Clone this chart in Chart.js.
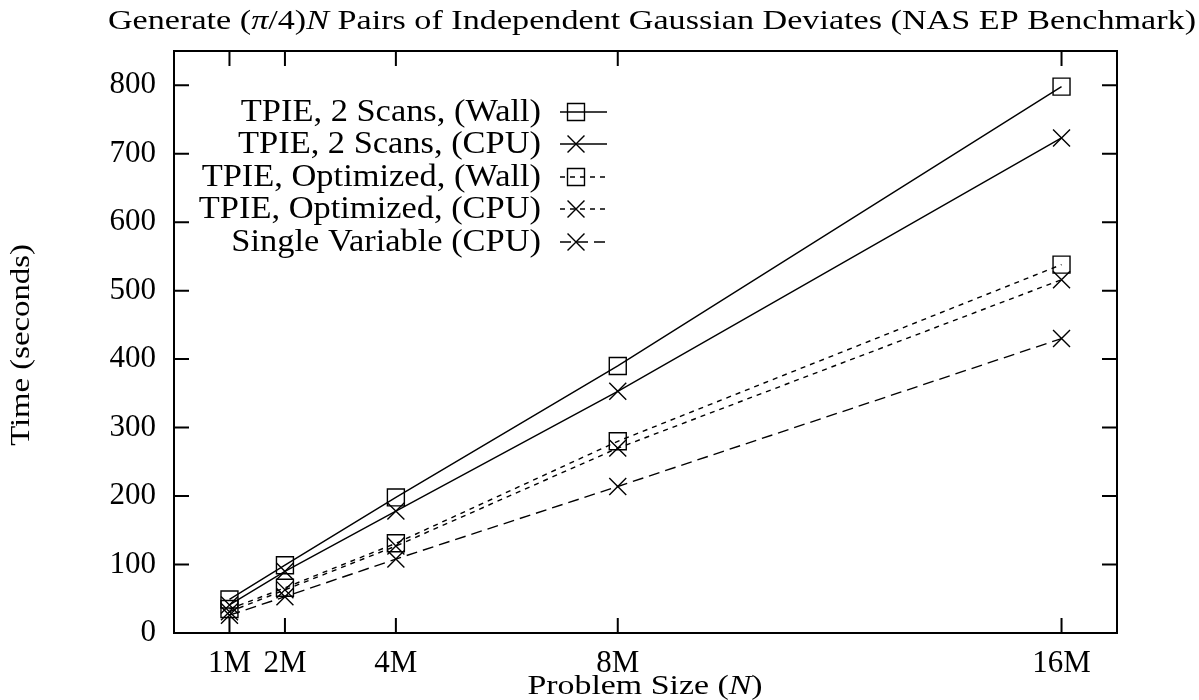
<!DOCTYPE html>
<html>
<head>
<meta charset="utf-8">
<script src="https://cdn.jsdelivr.net/npm/chart.js@4.4.0/dist/chart.umd.min.js"></script>
<style>
  html, body { margin: 0; padding: 0; background: #fff; }
  #wrap { width: 1199px; height: 700px; position: relative; }
</style>
</head>
<body>
<div id="wrap"><canvas id="epChart"></canvas></div>
<script>
// Problem sizes in millions
const sizes = [1, 2, 4, 8, 16];
const xTickLabels = ["1M", "2M", "4M", "8M", "16M"];
const yTicks = [0, 100, 200, 300, 400, 500, 600, 700, 800];

const scans2Wall = [49, 99, 198, 390, 798];
const scans2Cpu = [41, 90, 178, 353, 723];
const optWall = [35, 66, 131, 280, 538];
const optCpu = [31, 63, 127, 270, 516];
const singleCpu = [26, 53, 108, 214, 430];

const seriesLabels = [
    "TPIE, 2 Scans, (Wall)",
    "TPIE, 2 Scans, (CPU)",
    "TPIE, Optimized, (Wall)",
    "TPIE, Optimized, (CPU)",
    "Single Variable (CPU)"
];

const FONT = "'Liberation Serif', 'DejaVu Serif', serif";

function toPoints(values) {
    return sizes.map((s, i) => ({ x: s, y: values[i] }));
}

function makeSet(label, values, pointStyle, dash) {
    return {
        label: label,
        data: toPoints(values),
        borderColor: "#000",
        borderWidth: 1.4,
        borderDash: dash,
        pointStyle: pointStyle,
        pointRadius: 12,
        pointBorderWidth: 1.4,
        pointBorderColor: "#000",
        pointBackgroundColor: "rgba(0,0,0,0)",
        fill: false,
        tension: 0
    };
}

const datasets = [
    makeSet(seriesLabels[0], scans2Wall, "rect", []),
    makeSet(seriesLabels[1], scans2Cpu, "crossRot", []),
    makeSet(seriesLabels[2], optWall, "rect", [5, 5]),
    makeSet(seriesLabels[3], optCpu, "crossRot", [5, 5]),
    makeSet(seriesLabels[4], singleCpu, "crossRot", [11, 6])
];

// draw text pieces (some italic) stretched horizontally by sx
// align: "center" puts the middle at x, "right" puts the end at x
function drawRich(ctx, pieces, x, cy, size, sx, align) {
    let total = 0;
    pieces.forEach(p => {
        ctx.font = (p.it ? "italic " : "") + size + "px " + FONT;
        p.w = ctx.measureText(p.t).width;
        total += p.w;
    });
    ctx.save();
    ctx.translate(x, cy);
    ctx.scale(sx, 1);
    let px = align === "right" ? -total : -total / 2;
    ctx.textAlign = "left";
    ctx.textBaseline = "middle";
    pieces.forEach(p => {
        ctx.font = (p.it ? "italic " : "") + size + "px " + FONT;
        ctx.fillText(p.t, px, 0);
        px += p.w;
    });
    ctx.restore();
}

function drawMarker(ctx, style, x, y, r) {
    ctx.beginPath();
    if (style === "rect") {
        const s = Math.SQRT1_2 * r;
        ctx.rect(x - s, y - s, 2 * s, 2 * s);
    } else {
        const d = Math.SQRT1_2 * r;
        ctx.moveTo(x - d, y - d); ctx.lineTo(x + d, y + d);
        ctx.moveTo(x - d, y + d); ctx.lineTo(x + d, y - d);
    }
    ctx.stroke();
}

const framePlugin = {
    id: "frame",
    beforeDatasetsDraw(chart) {
        const ctx = chart.ctx;
        const a = chart.chartArea;
        const xs = chart.scales.x, ys = chart.scales.y;
        ctx.save();
        ctx.strokeStyle = "#000";
        ctx.lineWidth = 2;
        ctx.setLineDash([]);
        ctx.strokeRect(a.left, a.top, a.right - a.left, a.bottom - a.top);
        const L = 15;
        ctx.beginPath();
        sizes.forEach(v => {
            const px = xs.getPixelForValue(v);
            ctx.moveTo(px, a.bottom); ctx.lineTo(px, a.bottom - L);
            ctx.moveTo(px, a.top); ctx.lineTo(px, a.top + L);
        });
        yTicks.forEach(v => {
            const py = ys.getPixelForValue(v);
            ctx.moveTo(a.left, py); ctx.lineTo(a.left + L, py);
            ctx.moveTo(a.right, py); ctx.lineTo(a.right - L, py);
        });
        ctx.stroke();
        ctx.restore();
    },
    afterDraw(chart) {
        const ctx = chart.ctx;
        ctx.save();
        ctx.fillStyle = "#000";
        // title
        drawRich(ctx, [
            { t: "Generate (" }, { t: "π", it: true }, { t: "/4)" }, { t: "N", it: true },
            { t: " Pairs of Independent Gaussian Deviates (NAS EP Benchmark)" }
        ], 652, 22, 28, 1.22, "center");
        // x axis title
        drawRich(ctx, [{ t: "Problem Size (" }, { t: "N", it: true }, { t: ")" }], 645, 687, 28, 1.21, "center");
        // y axis title
        ctx.save();
        ctx.translate(22, 345);
        ctx.rotate(-Math.PI / 2);
        drawRich(ctx, [{ t: "Time (seconds)" }], 0, 0, 28, 1.17, "center");
        ctx.restore();

        // legend
        ctx.strokeStyle = "#000";
        ctx.lineWidth = 1.4;
        const rows = [112, 144, 177, 209, 242];
        chart.data.datasets.forEach((ds, i) => {
            const y = rows[i];
            drawRich(ctx, [{ t: ds.label }], 541, y + 1, 31, 1.11, "right");
            ctx.setLineDash(ds.borderDash);
            ctx.beginPath();
            ctx.moveTo(560, y); ctx.lineTo(607, y);
            ctx.stroke();
            ctx.setLineDash([]);
            drawMarker(ctx, ds.pointStyle, 576, y, 12);
        });
        ctx.restore();
    }
};

new Chart(document.getElementById("epChart").getContext("2d"), {
    type: "line",
    data: { datasets: datasets },
    plugins: [framePlugin],
    options: {
        responsive: true,
        maintainAspectRatio: false,
        animation: false,
        layout: { padding: { top: 51, right: 82, left: 0, bottom: 0 } },
        plugins: {
            legend: { display: false },
            tooltip: { enabled: false }
        },
        scales: {
            x: {
                type: "linear",
                min: 0,
                max: 17,
                afterBuildTicks: scale => { scale.ticks = sizes.map(v => ({ value: v })); },
                afterFit: scale => { scale.height = 67; },
                grid: { display: false },
                border: { display: false },
                ticks: {
                    color: "#000",
                    font: { family: FONT, size: 31 },
                    padding: 4,
                    maxRotation: 0,
                    autoSkip: false,
                    callback: (v) => xTickLabels[sizes.indexOf(v)]
                }
            },
            y: {
                min: 0,
                max: 850,
                afterBuildTicks: scale => { scale.ticks = yTicks.map(v => ({ value: v })); },
                afterFit: scale => { scale.width = 174; },
                grid: { display: false },
                border: { display: false },
                ticks: {
                    color: "#000",
                    font: { family: FONT, size: 31 },
                    padding: 10,
                    autoSkip: false
                }
            }
        }
    }
});
</script>
</body>
</html>
